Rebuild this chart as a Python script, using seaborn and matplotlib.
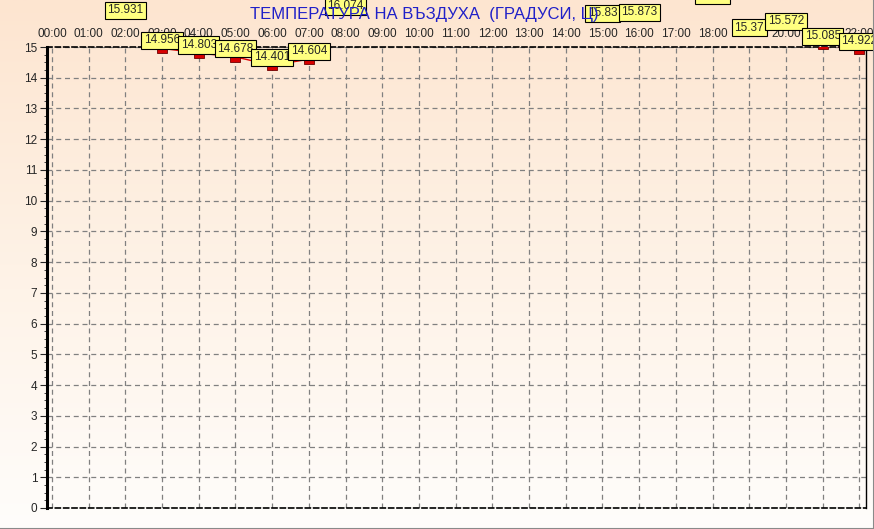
import numpy as np
import pandas as pd
import seaborn as sns
import matplotlib.pyplot as plt
from matplotlib.lines import Line2D
from matplotlib.colors import LinearSegmentedColormap

# hourly air temperature, hours without a visible reading are left out
hours = [2, 3, 4, 5, 6, 7, 8, 15, 16, 18, 19, 20, 21, 22]
temps = [15.931, 14.956, 14.803, 14.678, 14.401, 14.604, 16.074,
         15.83, 15.873, 16.43, 15.37, 15.572, 15.085, 14.922]
tick_hours = list(range(0, 23))
tick_labels = ["%02d:00" % h for h in tick_hours]
title = "ТЕМПЕРАТУРА НА ВЪЗДУХА  (ГРАДУСИ, Ц)"

df = pd.DataFrame({"hour": hours, "temp": temps})

sns.set_style("white")
plt.rcParams["font.family"] = ["Liberation Sans", "DejaVu Sans"]

fig = plt.figure(figsize=(8.74, 5.29), dpi=100)

# peach -> white background gradient over the whole figure
bg = fig.add_axes([0, 0, 1, 1], zorder=-10)
grad = np.linspace(0, 1, 256).reshape(-1, 1)
cmap = LinearSegmentedColormap.from_list("bg", ["#FDE5D0", "#FEF2E6", "#FFFDFB"])
bg.imshow(grad, aspect="auto", cmap=cmap, extent=[0, 1, 0, 1])
bg.set_axis_off()
fig.add_artist(Line2D([0, 1], [0.5 / 529, 0.5 / 529], color="#8a8a8a", lw=1.5))
fig.add_artist(Line2D([1 - 0.5 / 874, 1 - 0.5 / 874], [0, 1], color="#8a8a8a", lw=1.5))

ax = fig.add_axes([47 / 874, 21 / 529, 819 / 874, 461 / 529])
ax.patch.set_alpha(0)

sns.lineplot(data=df, x="hour", y="temp", ax=ax, color="#E00000", lw=1,
             marker="s", markersize=6.5, markerfacecolor="#D80000",
             markeredgecolor="#700000", markeredgewidth=0.6, zorder=3)

for h, t in zip(hours, temps):
    ax.annotate("%g" % t, (h, t), xytext=(0, 8), textcoords="offset pixels",
                ha="center", va="center", fontsize=8.5, annotation_clip=False,
                bbox=dict(boxstyle="square,pad=0.22", fc="#FFFF80", ec="black", lw=0.8),
                zorder=5)

ax.set_xlim(-0.136, 22.18)
ax.set_ylim(0, 15)
ax.set_xticks(tick_hours)
ax.set_xticklabels(tick_labels)
ax.set_yticks(range(0, 16))
ax.set_yticks(np.arange(0, 15.01, 0.25), minor=True)
ax.xaxis.tick_top()
ax.tick_params(axis="x", length=0, pad=5, labelsize=8.5)
ax.tick_params(axis="y", which="major", length=5, direction="out", labelsize=8.5, pad=2, left=True)
ax.tick_params(axis="y", which="minor", length=2, direction="out", left=True)
ax.set_xlabel("")
ax.set_ylabel("")

ax.grid(True, color="#808080", ls=(0, (4, 3)), lw=0.9)
ax.spines["left"].set_linewidth(2.2)
ax.spines["right"].set_linewidth(1)
for s in ["top", "bottom"]:
    ax.spines[s].set_linestyle((0, (3, 2)))
    ax.spines[s].set_linewidth(1.2)
for s in ax.spines.values():
    s.set_color("black")

fig.text(424 / 874, 1 - 14 / 529, title, ha="center", va="center",
         fontsize=12, color="#2020C8")

fig.savefig("out.png", dpi=100)
